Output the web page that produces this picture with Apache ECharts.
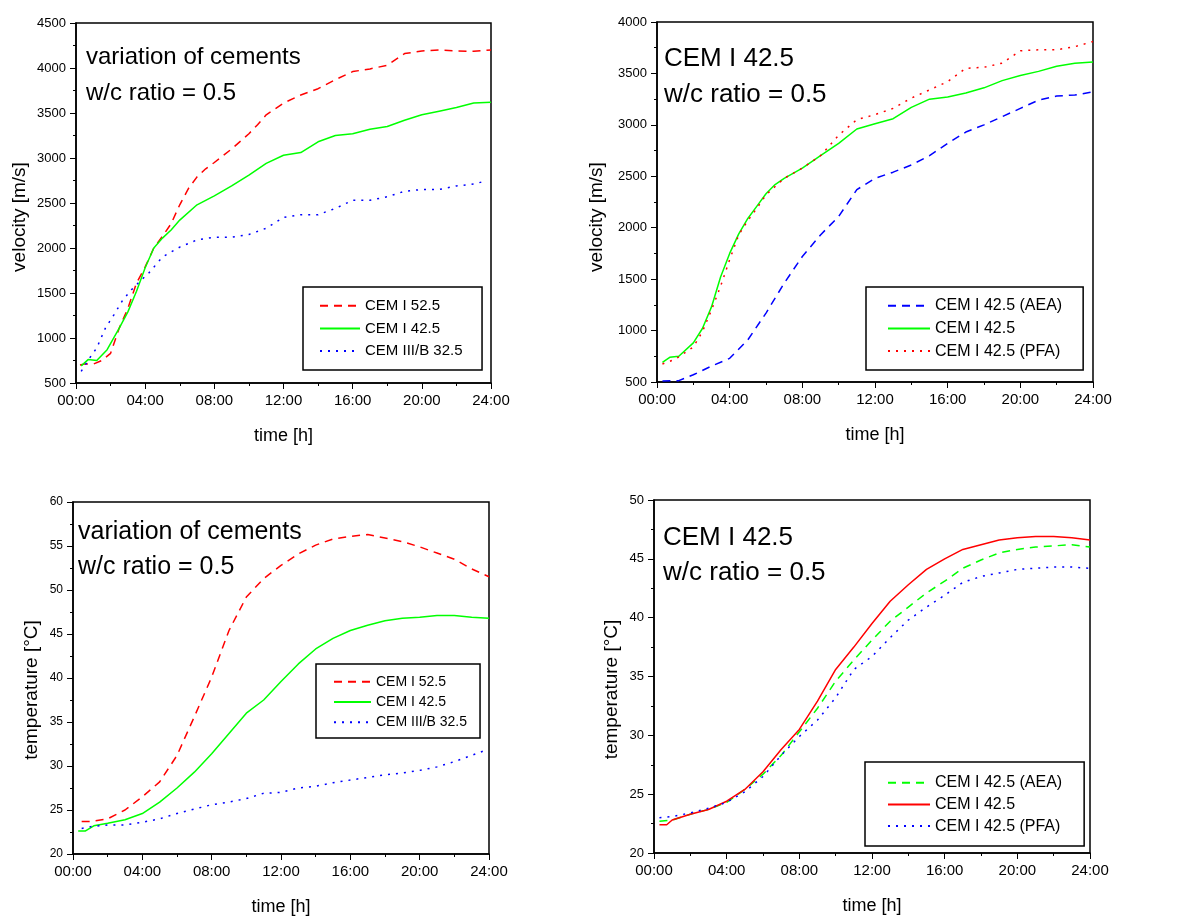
<!DOCTYPE html>
<html><head><meta charset="utf-8">
<script src="https://cdn.jsdelivr.net/npm/echarts@6/dist/echarts.min.js"></script>
<style>html,body{margin:0;padding:0;background:#fff}#c{width:1181px;height:917px}</style>
</head><body><div id="c"></div>
<script>
// ---------- tick labels ----------
const timeLabels = ['00:00','04:00','08:00','12:00','16:00','20:00','24:00'];

// ---------- Panel 1: velocity, variation of cements ----------
const vel1_cem525 = [[0.23,700],[0.5,710],[1,710],[1.5,750],[2,830],[2.5,1110],[3,1330],[3.5,1610],[4,1790],[4.5,2000],[5,2130],[5.5,2270],[6,2480],[6.5,2660],[7,2790],[7.5,2880],[8,2950],[9,3100],[10,3270],[10.5,3370],[11,3480],[12,3610],[13,3700],[14,3770],[15,3870],[16,3960],[17,3990],[18,4030],[19,4160],[20,4190],[21,4200],[22,4190],[23,4185],[24,4200]];
const vel1_cem425 = [[0.3,690],[0.7,760],[1.2,750],[1.8,870],[2.5,1110],[3,1290],[3.5,1520],[4,1780],[4.5,2000],[5,2110],[5.5,2200],[6,2310],[7,2480],[8,2580],[9,2690],[10,2810],[11,2940],[12,3030],[13,3060],[14,3180],[15,3250],[16,3270],[17,3320],[18,3350],[19,3420],[20,3480],[21,3520],[22,3560],[23,3610],[24,3620]];
const vel1_cem325 = [[0.3,630],[0.8,780],[1.2,890],[1.7,1110],[2.2,1260],[2.7,1420],[3.2,1535],[3.7,1630],[4.2,1720],[5,1900],[6,2010],[7,2090],[8,2120],[9,2120],[10,2150],[11,2220],[12,2340],[13,2370],[14,2370],[15,2440],[16,2530],[17,2530],[18,2570],[19,2630],[20,2650],[21,2650],[22,2690],[23,2710],[23.6,2740]];

// ---------- Panel 2: velocity, CEM I 42.5 ----------
const vel2_aea = [[0.3,510],[1.2,513],[2,570],[3,655],[4,730],[5,910],[6,1170],[7,1460],[8,1720],[9,1930],[10,2110],[11,2370],[12,2480],[13,2540],[14,2610],[15,2700],[16,2820],[17,2930],[18,3000],[19,3080],[20,3160],[21,3240],[22,3280],[23,3290],[24,3320]];
const vel2_cem425 = [[0.3,690],[0.7,740],[1.2,750],[2,880],[2.5,1020],[3,1230],[3.5,1520],[4,1750],[4.5,1940],[5,2090],[5.5,2210],[6,2330],[6.5,2420],[7,2480],[8,2580],[9,2700],[10,2820],[11,2960],[12,3010],[13,3060],[14,3170],[15,3250],[16,3270],[17,3310],[18,3360],[19,3430],[20,3480],[21,3520],[22,3570],[23,3600],[24,3610]];
const vel2_pfa = [[0.3,675],[1,720],[2,840],[2.5,990],[3,1200],[3.5,1430],[4,1690],[4.5,1930],[5,2070],[5.5,2190],[6,2320],[7,2480],[8,2580],[9,2700],[10,2900],[11,3050],[12,3100],[13,3160],[14,3260],[15,3340],[16,3420],[17,3550],[18,3560],[19,3600],[20,3720],[21,3730],[22,3730],[23,3760],[24,3810]];

// ---------- Panel 3: temperature, variation of cements ----------
const tmp3_cem525 = [[0.5,23.7],[1,23.7],[2,24.0],[3,25.0],[4,26.5],[5,28.2],[6,31.2],[7,35.6],[8,40.1],[9,45.4],[10,49.2],[11,51.3],[12,52.8],[13,54.1],[14,55.1],[15,55.8],[16,56.1],[17,56.3],[18,55.9],[19,55.5],[20,54.9],[21,54.2],[22,53.5],[23,52.4],[24,51.5]];
const tmp3_cem425 = [[0.3,22.6],[0.7,22.6],[1.2,23.2],[2,23.5],[3,23.9],[4,24.6],[5,25.9],[6,27.5],[7,29.3],[8,31.4],[9,33.7],[10,36.0],[11,37.5],[12,39.6],[13,41.6],[14,43.3],[15,44.5],[16,45.4],[17,46.0],[18,46.5],[19,46.8],[20,46.9],[21,47.1],[22,47.1],[23,46.9],[24,46.8]];
const tmp3_cem325 = [[0.5,22.9],[1,23.1],[2,23.3],[3,23.3],[4,23.6],[5,24.0],[6,24.6],[7,25.1],[8,25.6],[9,25.9],[10,26.3],[11,26.9],[12,27.0],[13,27.5],[14,27.7],[15,28.1],[16,28.4],[17,28.7],[18,29.0],[19,29.2],[20,29.5],[21,29.9],[22,30.5],[23,31.2],[23.8,31.8]];

// ---------- Panel 4: temperature, CEM I 42.5 ----------
const tmp4_aea = [[0.3,22.7],[1,22.8],[2,23.3],[3,23.7],[4,24.3],[5,25.4],[6,26.7],[7,28.3],[8,30.3],[9,32.3],[10,34.6],[11,36.4],[12,38.1],[13,39.7],[14,40.9],[15,42.1],[16,43.1],[17,44.2],[18,44.9],[19,45.5],[20,45.8],[21,46.0],[22,46.1],[23,46.2],[24,46.0]];
const tmp4_cem425 = [[0.3,22.4],[0.7,22.4],[1,22.8],[2,23.3],[3,23.7],[4,24.4],[5,25.4],[6,26.9],[7,28.8],[8,30.5],[9,32.9],[10,35.6],[11,37.5],[12,39.5],[13,41.4],[14,42.8],[15,44.1],[16,45.0],[17,45.8],[18,46.2],[19,46.6],[20,46.8],[21,46.9],[22,46.9],[23,46.8],[24,46.6]];
const tmp4_pfa = [[0.3,23.0],[1,23.1],[2,23.4],[3,23.8],[4,24.3],[5,25.2],[6,26.5],[7,28.3],[8,29.9],[9,31.3],[10,33.2],[11,35.6],[12,36.7],[13,38.3],[14,39.8],[15,40.9],[16,41.9],[17,43.0],[18,43.5],[19,43.8],[20,44.1],[21,44.2],[22,44.3],[23,44.3],[23.9,44.2]];

// ---------- chart ----------
const FONT = 'Liberation Sans, Arial, sans-serif';
const RED = '#ff0000', GREEN = '#00ff00', BLUE = '#0000ff';
const DASH = [8, 6], DOT = [2, 6];

const chart = echarts.init(document.getElementById('c'), null, {renderer: 'canvas'});

const grids = [
  {left: 76, top: 23, width: 415, height: 360},
  {left: 657, top: 22, width: 436, height: 360},
  {left: 73, top: 502, width: 416, height: 352},
  {left: 654, top: 500, width: 436, height: 353}
].map(g => Object.assign(g, {show: true, borderColor: '#000', borderWidth: 1.5, backgroundColor: 'transparent'}));

function xAx(i, labelSize) {
  return {
    type: 'value', gridIndex: i, min: 0, max: 24, interval: 4,
    name: 'time [h]', nameLocation: 'middle', nameGap: 44,
    nameTextStyle: {fontFamily: FONT, fontSize: 18, color: '#000'},
    axisLine: {show: true, onZero: false, lineStyle: {color: '#000', width: 1.5}},
    axisTick: {show: true, length: 6, lineStyle: {color: '#000', width: 1}},
    minorTick: {show: true, splitNumber: 2, length: 3, lineStyle: {color: '#000', width: 1}},
    splitLine: {show: false},
    axisLabel: {fontFamily: FONT, fontSize: labelSize, color: '#000', margin: 10,
      showMinLabel: true, showMaxLabel: true,
      formatter: v => timeLabels[Math.round(v / 4)]}
  };
}
function yAx(i, min, max, interval, name, gap, labelSize, shift) {
  return {
    type: 'value', gridIndex: i, min, max, interval,
    name, nameLocation: 'middle', nameGap: gap,
    nameTextStyle: {fontFamily: FONT, fontSize: 19, color: '#000', padding: [0, shift * 2, 0, 0]},
    axisLine: {show: true, onZero: false, lineStyle: {color: '#000', width: 1.5}},
    axisTick: {show: true, length: 6, lineStyle: {color: '#000', width: 1}},
    minorTick: {show: true, splitNumber: 2, length: 3, lineStyle: {color: '#000', width: 1}},
    splitLine: {show: false},
    axisLabel: {fontFamily: FONT, fontSize: labelSize, color: '#000', margin: 10,
      showMinLabel: true, showMaxLabel: true, formatter: v => String(v)}
  };
}

function line(name, data, color, dash, idx) {
  return {
    type: 'line', name, data, xAxisIndex: idx, yAxisIndex: idx,
    symbol: 'none', smooth: false, animation: false,
    lineStyle: {color, width: 1.5, type: dash},
    itemStyle: {color}
  };
}
// names get trailing spaces per panel so each legend binds to its own series
const sfx = i => ' '.repeat(i);

function legend(i, names, left, top, itemWidth, fontSize, lineHeight, gap, pad) {
  return {
    show: true, orient: 'vertical', left, top, data: names.map(n => n + sfx(i)),
    itemWidth, itemHeight: 10, itemGap: gap, padding: pad,
    borderColor: '#000', borderWidth: 1.5, backgroundColor: '#fff',
    selectedMode: false, inactiveColor: '#000',
    itemStyle: {opacity: 0, borderWidth: 0},
    formatter: n => n.trim(),
    textStyle: {fontFamily: FONT, fontSize, lineHeight, color: '#000'}
  };
}

const option = {
  backgroundColor: '#fff',
  animation: false,
  grid: grids,
  xAxis: [xAx(0, 15), xAx(1, 15), xAx(2, 15), xAx(3, 15)],
  yAxis: [
    yAx(0, 500, 4500, 500, 'velocity [m/s]', 47, 13, 14),
    yAx(1, 500, 4000, 500, 'velocity [m/s]', 51, 13, 15),
    yAx(2, 20, 60, 5, 'temperature [°C]', 32, 12, 12),
    yAx(3, 20, 50, 5, 'temperature [°C]', 33, 13, 13)
  ],
  title: [
    {text: 'variation of cements\nw/c ratio = 0.5', left: 86, top: 39, padding: 0,
      textStyle: {fontFamily: FONT, fontSize: 24, fontWeight: 'normal', lineHeight: 36, color: '#000'}},
    {text: 'CEM I 42.5\nw/c ratio = 0.5', left: 664, top: 41, padding: 0,
      textStyle: {fontFamily: FONT, fontSize: 26, fontWeight: 'normal', lineHeight: 36, color: '#000'}},
    {text: 'variation of cements\nw/c ratio = 0.5', left: 78, top: 515, padding: 0,
      textStyle: {fontFamily: FONT, fontSize: 25, fontWeight: 'normal', lineHeight: 35, color: '#000'}},
    {text: 'CEM I 42.5\nw/c ratio = 0.5', left: 663, top: 521, padding: 0,
      textStyle: {fontFamily: FONT, fontSize: 26, fontWeight: 'normal', lineHeight: 34.5, color: '#000'}}
  ],
  legend: [
    legend(0, ['CEM I 52.5', 'CEM I 42.5', 'CEM III/B 32.5'], 303, 287, 40, 15, 18, 4.7, [9.7, 19.5, 10, 16]),
    legend(1, ['CEM I 42.5 (AEA)', 'CEM I 42.5', 'CEM I 42.5 (PFA)'], 866, 287, 42, 16, 19, 3.7, [9.2, 21, 9.5, 21]),
    legend(2, ['CEM I 52.5', 'CEM I 42.5', 'CEM III/B 32.5'], 316, 664, 37, 14, 17, 3.3, [9.2, 13, 7.2, 17]),
    legend(3, ['CEM I 42.5 (AEA)', 'CEM I 42.5', 'CEM I 42.5 (PFA)'], 865, 762, 42, 16, 19, 2.7, [11.2, 22, 10.5, 22])
  ],
  series: [
    line('CEM I 52.5' + sfx(0), vel1_cem525, RED, DASH, 0),
    line('CEM I 42.5' + sfx(0), vel1_cem425, GREEN, 'solid', 0),
    line('CEM III/B 32.5' + sfx(0), vel1_cem325, BLUE, DOT, 0),

    line('CEM I 42.5 (AEA)' + sfx(1), vel2_aea, BLUE, DASH, 1),
    line('CEM I 42.5' + sfx(1), vel2_cem425, GREEN, 'solid', 1),
    line('CEM I 42.5 (PFA)' + sfx(1), vel2_pfa, RED, DOT, 1),

    line('CEM I 52.5' + sfx(2), tmp3_cem525, RED, DASH, 2),
    line('CEM I 42.5' + sfx(2), tmp3_cem425, GREEN, 'solid', 2),
    line('CEM III/B 32.5' + sfx(2), tmp3_cem325, BLUE, DOT, 2),

    line('CEM I 42.5 (AEA)' + sfx(3), tmp4_aea, GREEN, DASH, 3),
    line('CEM I 42.5' + sfx(3), tmp4_cem425, RED, 'solid', 3),
    line('CEM I 42.5 (PFA)' + sfx(3), tmp4_pfa, BLUE, DOT, 3)
  ]
};
chart.setOption(option);
</script></body></html>
